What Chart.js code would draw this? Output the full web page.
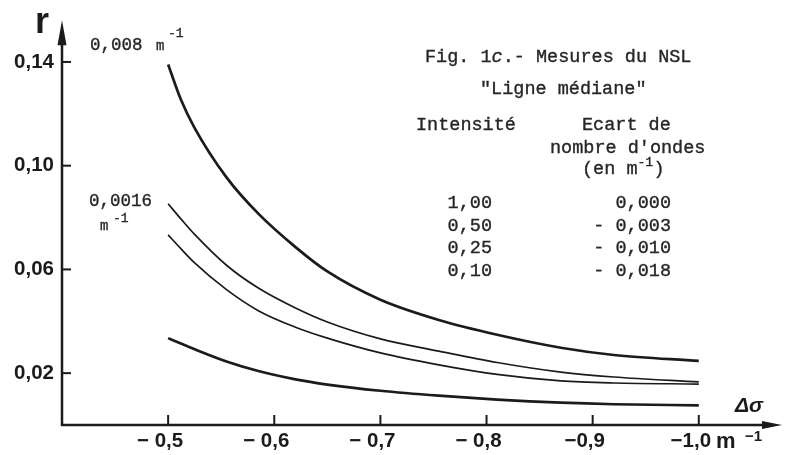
<!DOCTYPE html>
<html>
<head>
<meta charset="utf-8">
<script src="https://cdn.jsdelivr.net/npm/chart.js@4.4.1/dist/chart.umd.min.js"></script>
<style>
  html, body { margin: 0; padding: 0; background: #fff; }
  #wrap { width: 785px; height: 455px; }
</style>
</head>
<body>
<div id="wrap"><canvas id="chart" width="785" height="455"></canvas></div>
<script>
// Δσ in m-1 (horizontal axis)
const deltaSigma = [-0.5, -0.512, -0.525, -0.555, -0.585, -0.62, -0.65, -0.70, -0.755, -0.81, -0.87, -0.92, -1.0];

// r values for each curve, top to bottom
const rTop      = [0.139, 0.1255, 0.1145, 0.0955, 0.0815, 0.0686, 0.0592, 0.0483, 0.0405, 0.0348, 0.0298, 0.0270, 0.0247];
const rMidUpper = [0.0853, 0.0795, 0.0735, 0.0616, 0.0528, 0.0451, 0.0397, 0.0332, 0.0285, 0.0241, 0.0204, 0.0185, 0.0166];
const rMidLower = [0.0733, 0.0680, 0.0625, 0.0522, 0.0441, 0.0377, 0.0335, 0.0278, 0.0232, 0.0195, 0.0170, 0.0162, 0.0158];
const rBottom   = [0.0335, 0.0314, 0.0292, 0.0245, 0.0208, 0.0176, 0.0156, 0.0132, 0.0113, 0.0098, 0.0086, 0.0080, 0.0076];

const xTicks = [-0.5, -0.6, -0.7, -0.8, -0.9, -1.0];
const xTickLabels = ['− 0,5', '− 0,6', '− 0,7', '− 0,8', '−0,9', '−1,0'];
const yTicks = [0.02, 0.06, 0.10, 0.14];
const yTickLabels = ['0,02', '0,06', '0,10', '0,14'];

// table printed in the figure
const tableIntensity = ['1,00', '0,50', '0,25', '0,10'];
const tableShift = ['0,000', '- 0,003', '- 0,010', '- 0,018'];

const INK = '#1b1b1b';
const TYPE = "'Liberation Mono', 'DejaVu Sans Mono', monospace";
const SANS = "'Liberation Sans', Arial, sans-serif";

function toPoints(ys) {
  return deltaSigma.map((x, i) => ({ x: x, y: ys[i] }));
}

function curve(label, ys, width) {
  return {
    label: label,
    data: toPoints(ys),
    borderColor: INK,
    borderWidth: width,
    pointRadius: 0,
    fill: false,
    cubicInterpolationMode: 'monotone'
  };
}

function labelFor(list, labels, value) {
  const i = list.findIndex(t => Math.abs(t - value) < 1e-9);
  return i >= 0 ? labels[i] : '';
}

// typewriter text, a touch heavier than the plain mono face
function typed(ctx, text, x, y) {
  ctx.fillText(text, x, y);
  ctx.strokeText(text, x, y);
}

// axes with arrows, inner tick marks and all the free text
const inkPlugin = {
  id: 'ink',
  afterDraw(chart) {
    const { ctx } = chart;
    const xs = chart.scales.x;
    const ys = chart.scales.y;
    const ox = xs.left;
    const oy = ys.getPixelForValue(0);

    ctx.save();
    ctx.strokeStyle = INK;
    ctx.fillStyle = INK;
    ctx.lineWidth = 2.5;

    // y axis + arrow
    ctx.beginPath();
    ctx.moveTo(ox, oy + 1);
    ctx.lineTo(ox, ys.top + 20);
    ctx.stroke();
    ctx.beginPath();
    ctx.moveTo(ox, ys.top);
    ctx.lineTo(ox - 4.5, ys.top + 25);
    ctx.lineTo(ox + 4.5, ys.top + 25);
    ctx.closePath();
    ctx.fill();

    // x axis + arrow
    ctx.beginPath();
    ctx.moveTo(ox - 1, oy);
    ctx.lineTo(xs.right - 15, oy);
    ctx.stroke();
    ctx.beginPath();
    ctx.moveTo(xs.right, oy);
    ctx.lineTo(xs.right - 20, oy - 4);
    ctx.lineTo(xs.right - 20, oy + 4);
    ctx.closePath();
    ctx.fill();

    // tick marks drawn inside the plot
    ctx.lineWidth = 2;
    yTicks.forEach(v => {
      const py = ys.getPixelForValue(v);
      ctx.beginPath();
      ctx.moveTo(ox, py);
      ctx.lineTo(ox + 9, py);
      ctx.stroke();
    });
    xTicks.forEach(v => {
      const px = xs.getPixelForValue(v);
      ctx.beginPath();
      ctx.moveTo(px, oy);
      ctx.lineTo(px, oy - 10);
      ctx.stroke();
    });

    // axis names
    ctx.textAlign = 'left';
    ctx.textBaseline = 'alphabetic';
    ctx.font = 'bold 36px ' + SANS;
    ctx.fillText('r', 35, 33);
    ctx.font = 'italic bold 21px ' + SANS;
    ctx.fillText('Δσ', 735, 412);

    // unit after the last x label
    ctx.font = 'bold 22px ' + SANS;
    ctx.fillText('m', 716, 448);
    ctx.font = 'bold 15px ' + SANS;
    ctx.fillText('−1', 745, 441);

    // curve labels
    ctx.fillStyle = '#262626';
    ctx.strokeStyle = '#262626';
    ctx.lineWidth = 0.35;
    ctx.font = '17.5px ' + TYPE;
    typed(ctx, '0,008', 90, 50);
    typed(ctx, '0,0016', 89, 206);
    ctx.font = '14px ' + TYPE;
    typed(ctx, 'm', 156, 50);
    typed(ctx, 'm', 100, 230);
    ctx.font = '13px ' + TYPE;
    typed(ctx, '-1', 168, 37);
    typed(ctx, '-1', 113, 222);

    // caption
    ctx.font = '18.5px ' + TYPE;
    const cw = ctx.measureText('M').width;
    typed(ctx, 'Fig. 1', 425, 62);
    ctx.font = 'italic 18.5px ' + TYPE;
    typed(ctx, 'c', 425 + 6 * cw, 62);
    ctx.font = '18.5px ' + TYPE;
    typed(ctx, '.- Mesures du NSL', 425 + 7 * cw, 62);
    typed(ctx, '"Ligne médiane"', 480, 94);
    typed(ctx, 'Intensité', 416, 130);
    typed(ctx, 'Ecart de', 582, 130);
    typed(ctx, "nombre d'ondes", 550, 153);
    typed(ctx, '(en m', 582, 174);
    ctx.font = '13px ' + TYPE;
    typed(ctx, '-1', 582 + 5 * cw, 166);
    ctx.font = '18.5px ' + TYPE;
    typed(ctx, ')', 582 + 5 * cw + 16, 174);

    // table rows
    const rowY = [208, 231, 253, 276];
    ctx.textAlign = 'right';
    tableIntensity.forEach((t, i) => typed(ctx, t, 492, rowY[i]));
    tableShift.forEach((t, i) => typed(ctx, t, 671, rowY[i]));

    ctx.restore();
  }
};

let chart;
try {
  chart = new Chart(document.getElementById('chart'), {
    type: 'line',
    data: {
      datasets: [
        curve('0,008 m-1', rTop, 2.7),
        curve('0,0016 m-1 (a)', rMidUpper, 1.7),
        curve('0,0016 m-1 (b)', rMidLower, 1.7),
        curve('bas', rBottom, 2.7)
      ]
    },
    options: {
      responsive: false,
      animation: false,
      devicePixelRatio: 1,
      layout: { padding: { top: 8, right: 3, bottom: 0, left: 0 } },
      plugins: {
        legend: { display: false },
        tooltip: { enabled: false }
      },
      scales: {
        x: {
          type: 'linear',
          reverse: true,
          min: -1.0784,
          max: -0.4,
          grid: { display: false, drawTicks: false },
          border: { display: false },
          afterBuildTicks: s => { s.ticks = xTicks.map(v => ({ value: v })); },
          afterFit: s => { s.height = 30; },
          ticks: {
            padding: 4,
            labelOffset: -8,
            color: INK,
            font: { family: SANS, size: 20.5, weight: 'bold' },
            callback: v => labelFor(xTicks, xTickLabels, v)
          }
        },
        y: {
          min: 0,
          max: 0.15606,
          grid: { display: false, drawTicks: false },
          border: { display: false },
          afterBuildTicks: s => { s.ticks = yTicks.map(v => ({ value: v })); },
          afterFit: s => { s.width = 62; },
          ticks: {
            padding: 8,
            color: INK,
            font: { family: SANS, size: 20.5, weight: 'bold' },
            callback: v => labelFor(yTicks, yTickLabels, v)
          }
        }
      }
    },
    plugins: [inkPlugin]
  });
} catch (error) {
  console.error('Error initializing the chart:', error);
}
</script>
</body>
</html>
